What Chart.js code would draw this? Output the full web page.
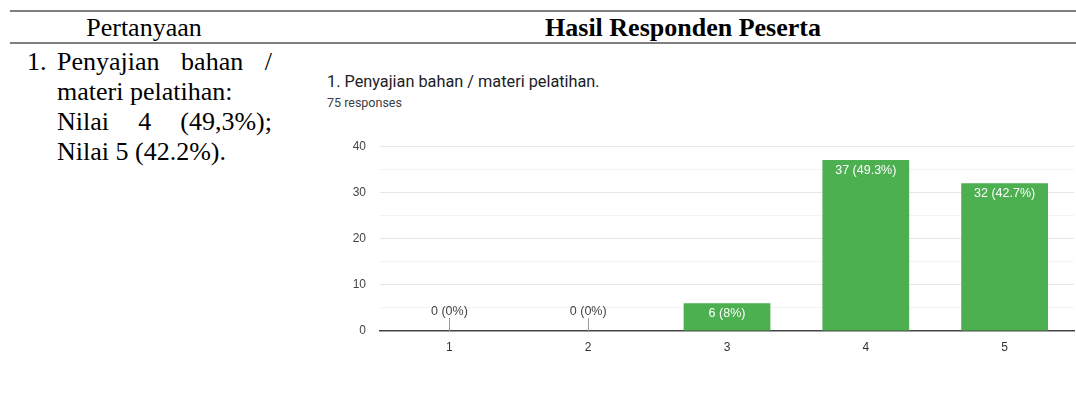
<!DOCTYPE html>
<html>
<head>
<meta charset="utf-8">
<script src="https://cdn.jsdelivr.net/npm/chart.js@4.4.1/dist/chart.umd.min.js"></script>
<style>
  html, body { margin: 0; padding: 0; background: #fff; }
  body { width: 1076px; height: 403px; position: relative; overflow: hidden; }
  .rule { position: absolute; left: 10px; right: 0; height: 2px; background: #808080; }
  .serif { position: absolute; font-family: "Liberation Serif", "Times New Roman", serif; font-size: 26px; line-height: 30px; color: #000; white-space: nowrap; }
  .just { text-align: justify; text-align-last: justify; white-space: normal; }
  #title { position: absolute; left: 327px; top: 72px; font-family: Roboto, Arial, sans-serif; font-size: 16.3px; line-height: 20px; color: #202124; white-space: nowrap; }
  #sub { position: absolute; left: 327px; top: 95px; font-family: Roboto, Arial, sans-serif; font-size: 12.5px; line-height: 15px; color: #3c4043; white-space: nowrap; }
  #wrap { position: absolute; left: 320px; top: 125px; width: 756px; height: 240px; }
</style>
</head>
<body>
<div class="rule" style="top:10px"></div>
<div class="rule" style="top:42px"></div>

<div class="serif" style="left:44px; width:200px; top:13px; text-align:center;">Pertanyaan</div>
<div class="serif" style="left:290px; width:786px; top:13px; text-align:center; font-weight:bold;">Hasil Responden Peserta</div>

<div class="serif" style="left:27px; top:47px;">1.</div>
<div class="serif just" style="left:57px; width:215px; top:47px;">Penyajian bahan /</div>
<div class="serif" style="left:57px; top:77px;">materi pelatihan:</div>
<div class="serif just" style="left:57px; width:215px; top:107px;">Nilai 4 (49,3%);</div>
<div class="serif" style="left:57px; top:137px;">Nilai 5 (42.2%).</div>

<div id="title">1. Penyajian bahan / materi pelatihan.</div>
<div id="sub">75 responses</div>

<div id="wrap"><canvas id="c"></canvas></div>

<script>
const categories = ['1', '2', '3', '4', '5'];
const counts = [0, 0, 6, 37, 32];
const percents = ['0%', '0%', '8%', '49.3%', '42.7%'];
const yTickValues = [0, 10, 20, 30, 40];

const valueLabels = {
  id: 'valueLabels',
  afterDatasetsDraw(chart) {
    const ctx = chart.ctx;
    const meta = chart.getDatasetMeta(0);
    ctx.save();
    ctx.font = '12.5px "Liberation Sans", Arial, sans-serif';
    ctx.textAlign = 'center';
    ctx.textBaseline = 'middle';
    meta.data.forEach((bar, i) => {
      const txt = counts[i] + ' (' + percents[i] + ')';
      if (counts[i] > 0) {
        ctx.fillStyle = '#ffffff';
        ctx.fillText(txt, bar.x, bar.y + 10);
      } else {
        ctx.fillStyle = '#444444';
        ctx.fillText(txt, bar.x, bar.y - 19);
        ctx.strokeStyle = '#999999';
        ctx.lineWidth = 1;
        ctx.beginPath();
        ctx.moveTo(Math.round(bar.x) + 0.5, bar.y - 13);
        ctx.lineTo(Math.round(bar.x) + 0.5, bar.y);
        ctx.stroke();
      }
    });
    ctx.restore();
  }
};

new Chart(document.getElementById('c'), {
  type: 'bar',
  data: {
    labels: categories,
    datasets: [{
      data: counts,
      backgroundColor: '#4caf50',
      borderWidth: 0,
      categoryPercentage: 1,
      barPercentage: 0.625
    }]
  },
  options: {
    responsive: true,
    maintainAspectRatio: false,
    animation: false,
    events: [],
    layout: { padding: { top: 18, right: 2, left: 0, bottom: 0 } },
    plugins: { legend: { display: false }, tooltip: { enabled: false } },
    scales: {
      x: {
        grid: { display: false, drawTicks: false },
        border: { display: true, color: '#444444', width: 1.5 },
        ticks: { color: '#333333', padding: 9, font: { family: '"Liberation Sans", Arial, sans-serif', size: 12 } },
        afterFit(scale) { scale.height = 34; }
      },
      y: {
        min: 0,
        max: 40,
        ticks: {
          stepSize: 5,
          padding: 14,
          color: '#444444',
          font: { family: '"Liberation Sans", Arial, sans-serif', size: 12 },
          callback(v) { return yTickValues.includes(v) ? String(v) : ''; }
        },
        grid: {
          drawTicks: false,
          color(ctx) {
            const v = ctx.tick && ctx.tick.value;
            if (v === 0) return 'rgba(0,0,0,0)';
            return yTickValues.includes(v) ? '#e6e6e6' : '#f3f3f3';
          }
        },
        border: { display: false },
        afterFit(scale) { scale.width = 60; }
      }
    }
  },
  plugins: [valueLabels]
});
</script>
</body>
</html>
